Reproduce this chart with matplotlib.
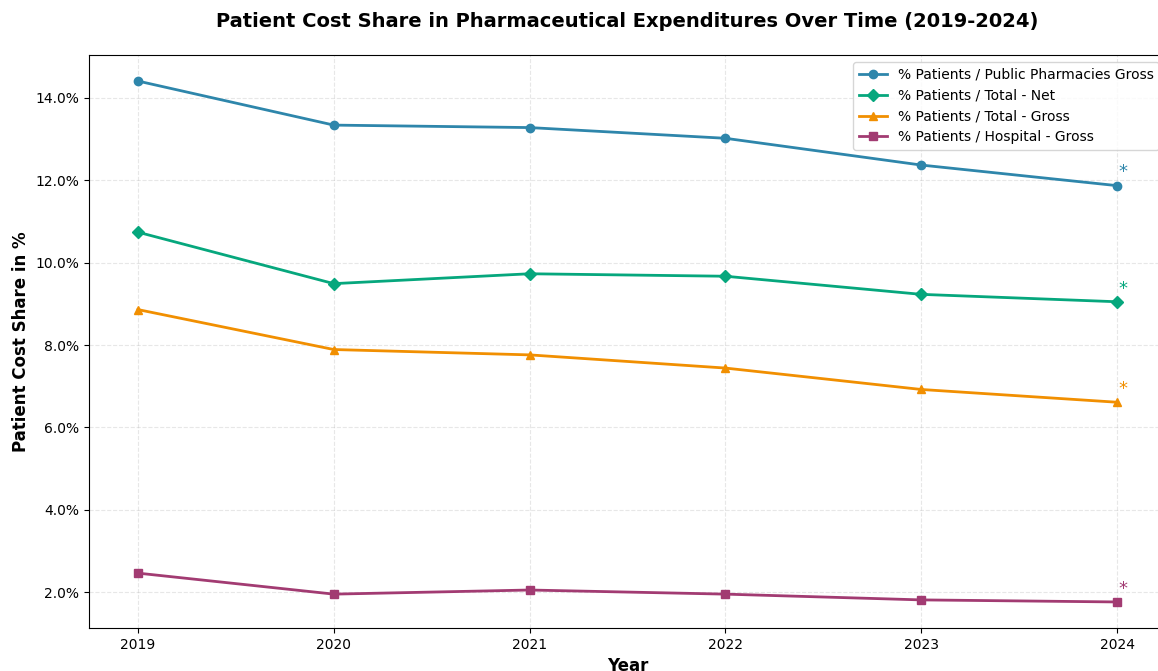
import matplotlib
matplotlib.use('Agg')
import matplotlib.pyplot as plt
from matplotlib.ticker import FuncFormatter

# data
years = [2019, 2020, 2021, 2022, 2023, 2024]
public_pharm_gross = [14.41, 13.34, 13.28, 13.02, 12.37, 11.87]
total_net = [10.74, 9.49, 9.73, 9.67, 9.23, 9.05]
total_gross = [8.86, 7.89, 7.76, 7.44, 6.92, 6.61]
hospital_gross = [2.46, 1.95, 2.05, 1.95, 1.81, 1.76]

labels = ['% Patients / Public Pharmacies Gross', '% Patients / Total - Net',
          '% Patients / Total - Gross', '% Patients / Hospital - Gross']
colors = ['#2E86AB', '#06A77D', '#F18F01', '#A23B72']
markers = ['o', 'D', '^', 's']
series = [public_pharm_gross, total_net, total_gross, hospital_gross]

fig = plt.figure(figsize=(11.58, 6.71), dpi=100)
ax = fig.add_axes([89/1158, 43/671, (1166-89)/1158, (628-55)/671])

for vals, lab, c, m in zip(series, labels, colors, markers):
    ax.plot(years, vals, marker=m, color=c, label=lab, linewidth=2, markersize=6)
    # asterisk on the last point
    ax.annotate('*', xy=(years[-1], vals[-1]), xytext=(4, 3), textcoords='offset points',
                color=c, fontsize=13, ha='center', va='bottom')

ax.set_title('Patient Cost Share in Pharmaceutical Expenditures Over Time (2019-2024)',
             fontsize=14, fontweight='bold', pad=20)
ax.set_xlabel('Year', fontsize=12, fontweight='bold')
ax.set_ylabel('Patient Cost Share in %', fontsize=12, fontweight='bold')
ax.set_xticks(years)
ax.yaxis.set_major_formatter(FuncFormatter(lambda v, p: '%.1f%%' % v))
ax.grid(True, linestyle='--', alpha=0.3)
ax.legend(loc='upper right', fontsize=10)

fig.savefig('out.png', dpi=100)
